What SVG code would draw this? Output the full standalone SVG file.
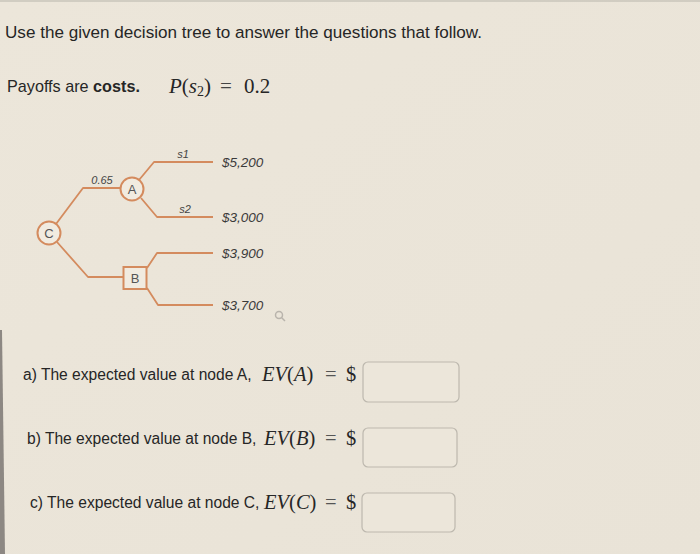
<svg xmlns="http://www.w3.org/2000/svg" width="700" height="554" viewBox="0 0 700 554">
<style>
.t{font-family:"Liberation Sans",Arial,sans-serif;fill:#262626}
.m{font-family:"Liberation Serif","Times New Roman",serif;fill:#262626}
.i{font-style:italic}
.lbl{font-family:"Liberation Sans",Arial,sans-serif;font-style:italic;fill:#444;font-size:11px}
.pay{font-family:"Liberation Sans",Arial,sans-serif;font-style:italic;fill:#3a3a3a;font-size:13.5px}
.edge{fill:none;stroke:#d48b5e;stroke-width:1.8;stroke-linejoin:round}
.node{fill:#f1ebe0;stroke:#d48b5e;stroke-width:2}
.nt{font-family:"Liberation Sans",Arial,sans-serif;fill:#555;font-size:13px;text-anchor:middle}
.box{fill:#ece6da;stroke:#bdb8ae;stroke-width:1.2}
</style>
<defs>
<linearGradient id="bg" x1="0" y1="0" x2="1" y2="1">
<stop offset="0" stop-color="#ece6da"/>
<stop offset="1" stop-color="#e9e3d7"/>
</linearGradient>
</defs>
<rect width="700" height="554" fill="url(#bg)"/>
<line x1="0" y1="1" x2="700" y2="1" stroke="#c9c4ba" stroke-width="1.5"/>
<polygon points="0,330 2,330 5,554 0,554" fill="#8d8883"/>

<text class="t" x="5" y="38" font-size="17.1">Use the given decision tree to answer the questions that follow.</text>
<text class="t" x="7" y="92" font-size="16.2">Payoffs are <tspan font-weight="bold">costs.</tspan></text>
<g class="m" font-size="21">
<text x="169" y="93"><tspan class="i">P</tspan>(<tspan class="i">s</tspan><tspan font-size="14" dy="3">2</tspan><tspan dy="-3">)</tspan></text>
<text x="220" y="93" fill="#444">=</text>
<text x="244" y="93">0.2</text>
</g>

<g id="connectors">
<polyline class="edge" points="56,224 83,188 121,188"/>
<polyline class="edge" points="57,242 88,277 124,277"/>
<polyline class="edge" points="139,180 154,162 213,162"/>
<polyline class="edge" points="141,198 157,217 213,217"/>
<polyline class="edge" points="147,268 157,253 213,253"/>
<polyline class="edge" points="147,288 158,305 213,305"/>
</g>
<g id="labels">
<text class="lbl" x="183" y="158" text-anchor="middle">s1</text>
<text class="lbl" x="185" y="213" text-anchor="middle">s2</text>
<text class="lbl" x="102" y="184" text-anchor="middle">0.65</text>
<text class="pay" x="222" y="167">$5,200</text>
<text class="pay" x="222" y="222">$3,000</text>
<text class="pay" x="222" y="258">$3,900</text>
<text class="pay" x="222" y="310">$3,700</text>
</g>
<g id="node-C">
<circle class="node" cx="49" cy="233" r="11.5"/>
<text class="nt" x="49" y="237.5">C</text>
</g>
<g id="node-A">
<circle class="node" cx="132" cy="189" r="11.5"/>
<text class="nt" x="132" y="193.5">A</text>
</g>
<g id="node-B">
<rect class="node" x="123.5" y="267" width="23" height="22"/>
<text class="nt" x="135" y="282.5">B</text>
</g>
<g id="zoom-icon" fill="none" stroke="#b9b4ac" stroke-width="1.5">
<circle cx="279" cy="315" r="3.5"/>
<line x1="281.5" y1="317.5" x2="285" y2="321"/>
</g>

<text class="t" x="23" y="380" font-size="15.6">a) The expected value at node A,</text>
<g class="m" font-size="20.5">
<text x="262" y="381"><tspan class="i">EV</tspan>(<tspan class="i">A</tspan>)</text>
<text x="325" y="381" fill="#555">=</text>
<text x="346" y="381">$</text>
</g>
<rect class="box" x="363" y="362" width="96" height="40" rx="5"/>

<text class="t" x="27" y="444" font-size="15.6">b) The expected value at node B,</text>
<g class="m" font-size="20.5">
<text x="264" y="445"><tspan class="i">EV</tspan>(<tspan class="i">B</tspan>)</text>
<text x="325" y="445" fill="#555">=</text>
<text x="346" y="445">$</text>
</g>
<rect class="box" x="363" y="428" width="94" height="39" rx="5"/>

<text class="t" x="30" y="508" font-size="15.6">c) The expected value at node C,</text>
<g class="m" font-size="20.5">
<text x="264" y="509"><tspan class="i">EV</tspan>(<tspan class="i">C</tspan>)</text>
<text x="325" y="509" fill="#555">=</text>
<text x="346" y="509">$</text>
</g>
<rect class="box" x="362" y="493" width="93" height="39" rx="5"/>
</svg>
